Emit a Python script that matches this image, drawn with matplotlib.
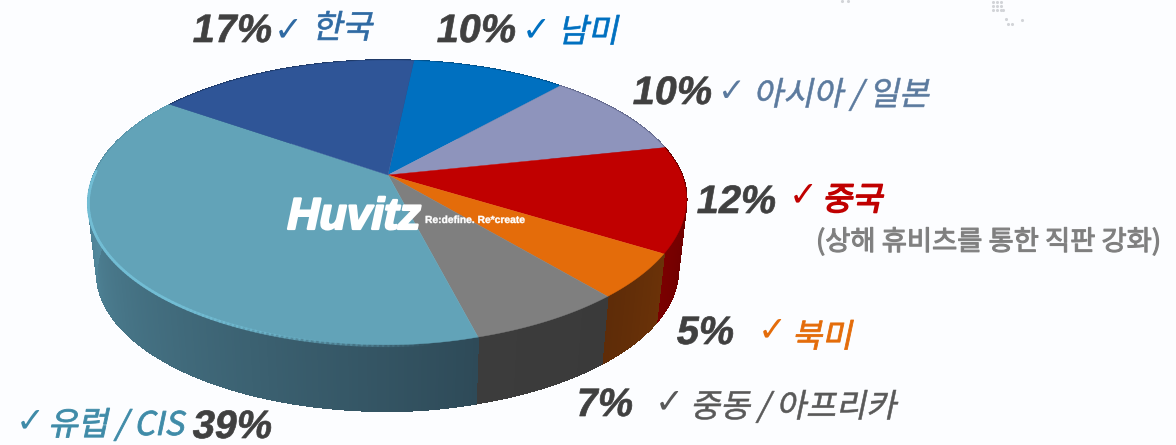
import numpy as np
import matplotlib
matplotlib.use("Agg")
import matplotlib.pyplot as plt
from matplotlib.collections import PolyCollection, LineCollection
from matplotlib.colors import to_rgb
from matplotlib.patheffects import AbstractPathEffect
from matplotlib.transforms import Affine2D

# ---- data ----
regions = ["남미", "아시아\u2009/\u2009일본", "중국", "북미", "중동\u2009/\u2009아프리카", "유럽\u2009/\u2009CIS", "한국"]
shares = [10, 10, 12, 5, 7, 39, 17]
pct_labels = ["10%", "10%", "12%", "5%", "7%", "39%", "17%"]
sub_note = "(상해 휴비츠를 통한 직판 강화)"
brand = "Huvitz"
slogan = "Re:define. Re*create"

# ---- styles ----
top_colors = ["#0070c0", "#8e94bc", "#c00000", "#e46c0a", "#7f7f7f", "#62a3b8", "#2f5597"]
side_front = ["#00508a", "#62688c", "#5e0000", "#6b3208", "#3a3a3a", "#2e4a58", "#1f3a68"]
side_back = ["#00508a", "#62688c", "#7a0000", "#5e2c08", "#3c3c3c", "#5f9fb5", "#1f3a68"]
text_colors = ["#0070c0", "#5b7a9e", "#c00000", "#e46c0a", "#595959", "#3f8ba8", "#2f6aa3"]
pct_color = "#404040"

pct_pos = [(435, 42), (631, 104), (695, 213), (675, 344), (574, 416), (191, 438), (191, 42)]
chk_pos = [(522, 40), (718, 101), (789, 205), (758, 340), (655, 412), (16, 431), (274, 40)]
name_pos = [(558, 42), (753, 105), (822, 210), (792, 347), (690, 417), (48, 435), (312, 38)]
chk_size = [25, 24, 25, 25, 25, 25, 25]
name_stroke = [0.5, 0.4, 1.1, 0.6, 0.4, 0.6, 0.5]

CX, CY = 388, 175
R, K, C = 294, 137, 0.193
START = 6.0
DEPTH, SHRINK = 71, 0.972
LEAN = 0.045


class Slanted(AbstractPathEffect):
    """Shears the glyph outlines of a real Text object (synthetic italic)."""
    def __init__(self, slant=12, stroke=0.0):
        super().__init__()
        self.slant, self.stroke = slant, stroke

    def draw_path(self, renderer, gc, tpath, affine, rgbFace=None):
        gc0 = renderer.new_gc()
        gc0.copy_properties(gc)
        gc0.set_linewidth(self.stroke)
        gc0.set_foreground(rgbFace)
        renderer.draw_path(gc0, tpath, Affine2D().skew_deg(self.slant, 0) + affine, rgbFace)
        gc0.restore()


def project(deg, dy=0.0, scale=1.0):
    """Clockwise degrees from 12 o'clock -> picture position (perspective disc)."""
    t = np.radians(deg)
    x, y = np.sin(t), np.cos(t)
    w = 1 + C * y
    px = CX + scale * R * x / w
    py = CY - scale * K * y / w
    px = px - LEAN * np.clip(py - CY, 0, None) * np.clip((px - CX) / 100, 0, 1)
    return px, py + dy


fig = plt.figure(figsize=(11.76, 4.45), dpi=100, facecolor="#fcfdff")
ax = fig.add_axes([0, 0, 1, 1])
ax.set_xlim(0, 1176)
ax.set_ylim(445, 0)
ax.axis("off")

# faint dotted map fragments in the background
bg_x = [842, 848, 993, 997, 1001, 993, 997, 1001, 993, 997, 1001, 1003, 1006, 1008, 1012, 1022]
bg_y = [1, 1, 2, 2, 2, 6, 6, 6, 10, 10, 10, 10, 19, 24, 24, 20]
ax.scatter(bg_x, bg_y, s=5, color="#d2d4d8", linewidths=0, zorder=0)

edges = START + np.concatenate([[0], np.cumsum(shares)]) * 360 / sum(shares)

# side wall
quads, cols = [], []
for i in range(len(shares)):
    a0, a1 = edges[i], edges[i + 1]
    n = max(2, int((a1 - a0) * 2))
    ts = np.linspace(a0, a1, n + 1)
    c0, c1 = np.array(to_rgb(side_front[i])), np.array(to_rgb(side_back[i]))
    for j in range(n):
        u, v = ts[j], ts[j + 1]
        xt0, yt0 = project(u)
        xt1, yt1 = project(v)
        xb0, yb0 = project(u, dy=DEPTH, scale=SHRINK)
        xb1, yb1 = project(v, dy=DEPTH, scale=SHRINK)
        quads.append([(xt0, yt0), (xt1, yt1), (xb1, yb1), (xb0, yb0)])
        cols.append(tuple(c0 + (c1 - c0) * (j + 0.5) / n))
ax.add_collection(PolyCollection(quads, facecolors=cols, edgecolors=cols, linewidths=0.8,
                                 antialiaseds=False, zorder=2))

# top face
for i, col in enumerate(top_colors):
    ts = np.linspace(edges[i], edges[i + 1], 80)
    px, py = project(ts)
    ax.fill(np.r_[CX, px], np.r_[CY, py], color=col, lw=0.3, zorder=3)

# rim highlight on the largest slice, front-left only, fading towards the front
ts = np.linspace(edges[5] + 8, 272, 120)
px, py = project(ts)
pts = np.column_stack([px, py + 1])
segs = np.stack([pts[:-1], pts[1:]], axis=1)
fade = np.clip(np.linspace(0, 2.2, len(segs)), 0, 1)
rgba = [(*to_rgb("#72bdd4"), a) for a in fade]
ax.add_collection(LineCollection(segs, colors=rgba, linewidths=2.0, zorder=4, capstyle="round"))

# labels
for i, name in enumerate(regions):
    ax.text(*pct_pos[i], pct_labels[i], family="Liberation Sans", weight="bold", size=28.5,
            color=pct_color, va="baseline", ha="left", zorder=6,
            path_effects=[Slanted(10, 0.5)])
    ax.text(*chk_pos[i], "✓", family="DejaVu Sans", size=chk_size[i], color=text_colors[i],
            va="baseline", ha="left", zorder=6)
    ax.text(*name_pos[i], name, family=["Noto Sans CJK KR", "DejaVu Sans"], size=23.5,
            color=text_colors[i], va="baseline", ha="left", zorder=6,
            path_effects=[Slanted(12, name_stroke[i])])

ax.text(816, 250, sub_note, family="Noto Sans CJK KR", size=19.7, color="#7f7f7f",
        va="baseline", ha="left", zorder=6, path_effects=[Slanted(0, 0.8)])

# logo
ax.text(285, 229, brand, family="Liberation Sans", weight="bold", size=32, color="white",
        va="baseline", ha="left", zorder=7, path_effects=[Slanted(12, 1.6)])
ax.text(425, 223, slogan, family="Liberation Sans", weight="bold", size=7.4, color="white",
        va="baseline", ha="left", zorder=7, path_effects=[Slanted(0, 0.3)])

fig.savefig("out.png", dpi=100, facecolor=fig.get_facecolor())
